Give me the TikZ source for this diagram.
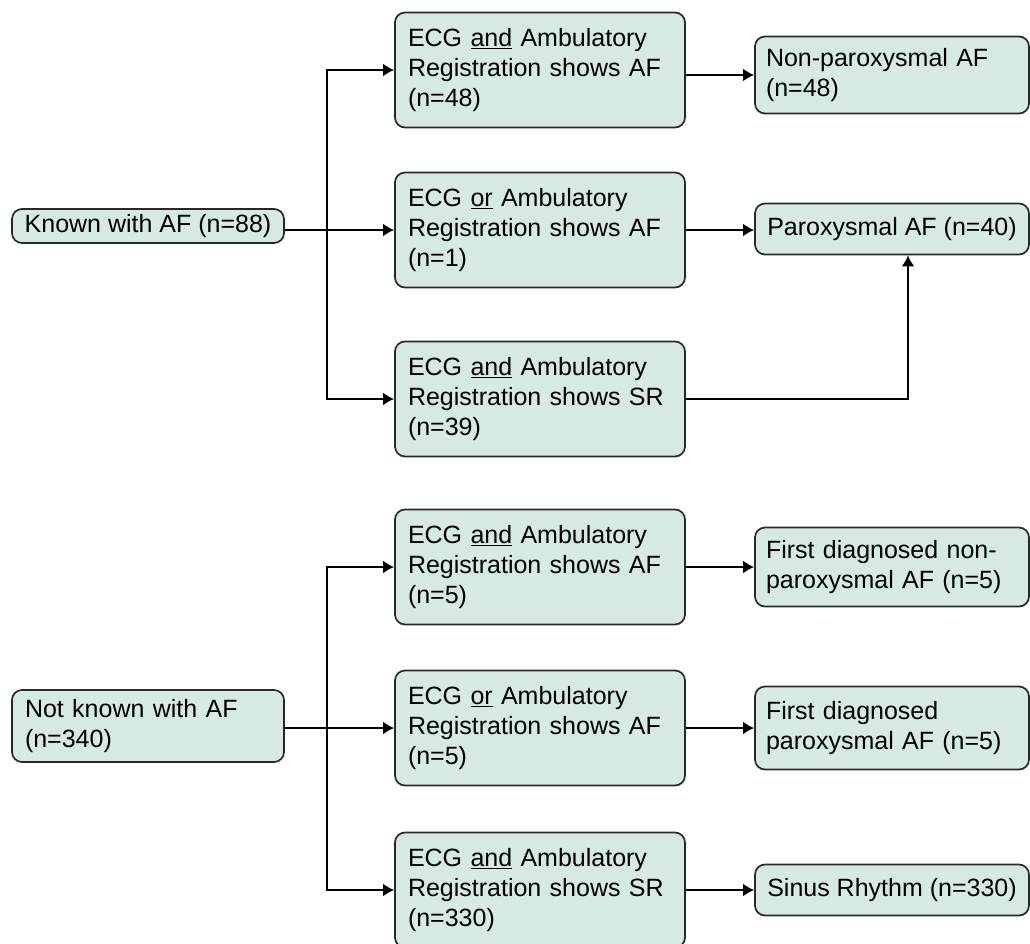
\documentclass[tikz,border=0pt]{standalone}
\usepackage{fontspec}
\setmainfont{Liberation Sans}
\usetikzlibrary{arrows.meta}
\definecolor{boxfill}{RGB}{214,234,227}
\definecolor{boxline}{RGB}{40,40,40}
\tikzset{
  box/.style={draw=boxline, line width=1.7, fill=boxfill, rounded corners=10,
    align=left, inner xsep=13, inner ysep=0,
    font=\fontsize{25}{30}\selectfont},
  midbox/.style={box, text width=264, minimum height=115},
  endbox/.style={box, text width=252, inner xsep=11},
  linebox/.style={box, inner xsep=0, minimum width=274, minimum height=51},
  link/.style={->, >={Latex[length=11pt,width=13pt]}, line width=2.2, draw=black},
}
\begin{document}
\begin{tikzpicture}[x=1pt, y=-1pt]
  \useasboundingbox (0,0) rectangle (1030,943);
  % known with AF
  \node[linebox, minimum width=272, minimum height=34] (known) at (148,226) {Known with AF (n=88)};
  \node[midbox] (a_1) at (540,70) {ECG \underline{and} Ambulatory\\Registration shows AF\\(n=48)};
  \node[midbox] (a_2) at (540,230) {ECG \underline{or} Ambulatory\\Registration shows AF\\(n=1)};
  \node[midbox] (a_3) at (540,399) {ECG \underline{and} Ambulatory\\Registration shows SR\\(n=39)};
  \node[endbox, minimum height=77] (r_1) at (892,75) {Non-paroxysmal AF\\(n=48)};
  \node[linebox] (r_2) at (892,229) {Paroxysmal AF (n=40)};
  \coordinate (split_1) at (327,229);
  \draw[link] (known.east |- a_2.west) -- (a_2.west);
  \draw[link] (split_1) |- (a_1.west);
  \draw[link] (split_1) |- (a_3.west);
  \draw[link] (a_1.east |- r_1.west) -- (r_1.west);
  \draw[link] (a_2.east) -- (a_2.east -| r_2.west);
  \draw[link] (a_3.east) -| ([xshift=16]r_2.south);
  % not known with AF
  \node[box, text width=246, minimum height=72] (unknown) at (148,726) {Not known with AF\\(n=340)};
  \node[midbox] (b_1) at (540,567) {ECG \underline{and} Ambulatory\\Registration shows AF\\(n=5)};
  \node[midbox] (b_2) at (540,728) {ECG \underline{or} Ambulatory\\Registration shows AF\\(n=5)};
  \node[midbox] (b_3) at (540,890) {ECG \underline{and} Ambulatory\\Registration shows SR\\(n=330)};
  \node[endbox, minimum height=79] (s_1) at (892,567) {First diagnosed non-\\paroxysmal AF (n=5)};
  \node[endbox, minimum height=83] (s_2) at (892,728) {First diagnosed\\paroxysmal AF (n=5)};
  \node[linebox] (s_3) at (892,890) {Sinus Rhythm (n=330)};
  \coordinate (split_2) at (327,728);
  \draw[link] (unknown.east |- b_2.west) -- (b_2.west);
  \draw[link] (split_2) |- (b_1.west);
  \draw[link] (split_2) |- (b_3.west);
  \draw[link] (b_1.east) -- (s_1.west);
  \draw[link] (b_2.east) -- (s_2.west);
  \draw[link] (b_3.east) -- (s_3.west);
\end{tikzpicture}
\end{document}
